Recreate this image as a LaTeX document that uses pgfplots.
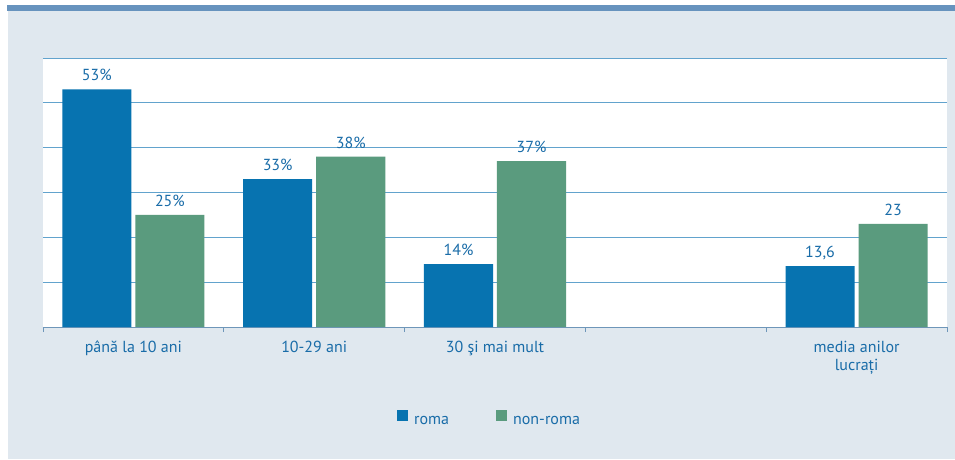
\documentclass[border=0pt]{standalone}
\usepackage{pgfplots}
\pgfplotsset{compat=1.18}
\usepackage{fontspec}
\setmainfont{PT Sans}
\definecolor{stripe}{RGB}{103,147,190}
\definecolor{panel}{RGB}{224,232,239}
\definecolor{roma}{RGB}{7,115,176}
\definecolor{nonroma}{RGB}{90,155,126}
\definecolor{txt}{RGB}{25,108,168}
\definecolor{gridc}{RGB}{98,163,205}
\definecolor{axc}{RGB}{110,150,185}
\begin{document}
\begin{tikzpicture}[x=1pt,y=1pt]
\useasboundingbox (0,0) rectangle (955,459);
\fill[white] (0,0) rectangle (955,459);
\fill[panel] (8,0) rectangle (955,448);
\fill[stripe] (7,448) rectangle (955,454);
\begin{axis}[
  at={(43pt,132pt)}, anchor=south west,
  scale only axis, width=904pt, height=269pt,
  axis background/.style={fill=white},
  xmin=-0.5, xmax=4.5, ymin=0, ymax=60,
  ybar, bar width=0.382,
  axis x line*=bottom, axis y line*=left,
  y axis line style={draw=none},
  x axis line style={draw=axc, line width=0.8pt},
  ytick={0,10,...,60}, yticklabels={}, ytick style={draw=none},
  ymajorgrids, grid style={draw=gridc, line width=0.9pt},
  xtick={0,1,2,3,4},
  xticklabels={până la 10 ani, 10-29 ani, 30 şi mai mult, {}, {media anilor\\lucrați}},
  major x tick style={draw=none},
  minor xtick={-0.5,0.5,...,4.5},
  minor x tick style={draw=axc, line width=0.8pt},
  minor tick length=5pt, tick align=outside,
  xticklabel style={align=center, font=\fontsize{16}{18.5}\selectfont, text=txt, anchor=north, yshift=-6pt},
  clip=false,
  point meta=explicit symbolic,
  nodes near coords,
  nodes near coords style={font=\fontsize{16}{19}\selectfont, text=txt, anchor=base, yshift=8.5pt},
  legend style={at={(0.494,-0.342)}, anchor=center, draw=none, fill=none,
    legend columns=2, font=\fontsize{16}{19}\selectfont, text=txt,
    /tikz/every even column/.append style={column sep=45pt}},
  legend image code/.code={\fill[#1] (0pt,0pt) rectangle (11pt,11pt); \path (15pt,0pt);},
]
\addplot[fill=roma, draw=none, bar shift=-0.202] coordinates {
  (0,53) [53\%]
  (1,33) [33\%]
  (2,14) [14\%]
  (4,13.6) [13,6]
};
\addplot[fill=nonroma, draw=none, bar shift=0.202] coordinates {
  (0,25) [25\%]
  (1,38) [38\%]
  (2,37) [37\%]
  (4,23) [23]
};
\legend{roma, non-roma}
\end{axis}
\end{tikzpicture}
\end{document}
